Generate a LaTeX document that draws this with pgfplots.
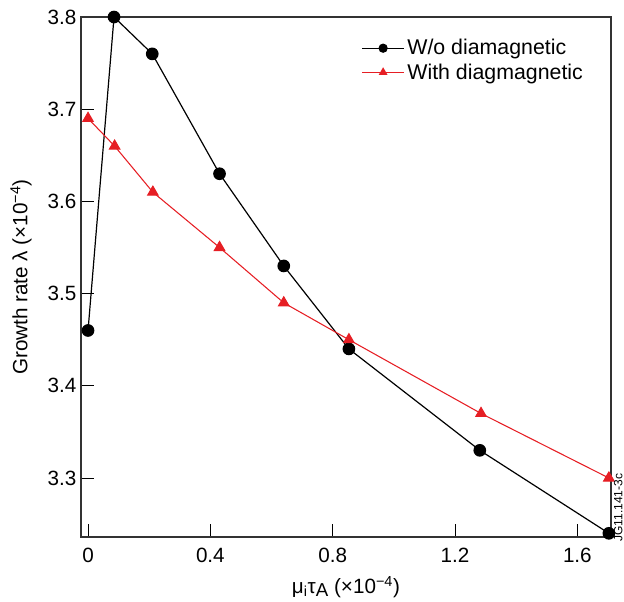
\documentclass[border=0pt]{standalone}
\usepackage{fontspec}
\setmainfont{Liberation Sans}
\usepackage{pgfplots}
\pgfplotsset{compat=1.18}
\definecolor{myred}{RGB}{230,30,36}
\begin{document}
\begin{tikzpicture}
\useasboundingbox (-60.75pt,-48pt) rectangle (407.25pt,402.75pt);
\begin{axis}[
  at={(0,0)}, anchor=south west,
  scale only axis, width=397.5pt, height=390pt,
  xmin=-0.023, xmax=1.71, ymin=3.236, ymax=3.8,
  xtick={0,0.4,0.8,1.2,1.6},
  xticklabels={0,0.4,0.8,1.2,1.6},
  ytick={3.3,3.4,3.5,3.6,3.7,3.8},
  yticklabels={3.3,3.4,3.5,3.6,3.7,3.8},
  tick align=inside, major tick length=10pt,
  xtick pos=bottom, ytick pos=left,
  tick style={black, line width=0.6pt},
  axis line style={line width=0.8pt, black!80},
  ticklabel style={font=\fontsize{15.5}{17}\selectfont},
  xticklabel style={yshift=-5pt},
  /pgf/number format/assume math mode=true,
  xlabel={μ\textsubscript{i}τ\raisebox{-0.3ex}{\fontsize{14}{14}\selectfont A} (×10\textsuperscript{−4})},
  ylabel={Growth rate λ (×10\textsuperscript{−4})},
  label style={font=\fontsize{15.5}{17}\selectfont},
  xlabel style={yshift=-3pt},
  ylabel style={yshift=5pt},
  legend style={at={(0.955,0.965)}, anchor=north east, draw=none, fill=none,
    font=\fontsize{16}{18}\selectfont, row sep=1pt, inner sep=1pt},
  legend cell align=left,
  legend image code/.code={%
    \draw[mark repeat=2,mark phase=2] plot coordinates {(0pt,0pt) (15.75pt,0pt) (31.5pt,0pt)};},
]
\addplot[black, line width=0.9pt, mark=*, mark size=4.3pt,
  legend image post style={mark size=3pt}]
  coordinates {(0,3.46) (0.085,3.80) (0.21,3.76) (0.43,3.63) (0.64,3.53) (0.853,3.44) (1.281,3.33) (1.703,3.24)};
\addlegendentry{W/o diamagnetic}
\addplot[myred, line width=0.8pt, mark=triangle*, mark size=4.5pt,
  legend image post style={mark size=3pt}]
  coordinates {(0,3.69) (0.087,3.66) (0.212,3.61) (0.43,3.55) (0.64,3.49) (0.853,3.45) (1.285,3.37) (1.703,3.30)};
\addlegendentry{With diagmagnetic}
\end{axis}
\node[rotate=90, anchor=north, font=\fontsize{9}{10}\selectfont, inner sep=1pt]
  at ([xshift=1pt,yshift=22pt]current axis.south east) {JG11.141-3c};
\end{tikzpicture}
\end{document}
